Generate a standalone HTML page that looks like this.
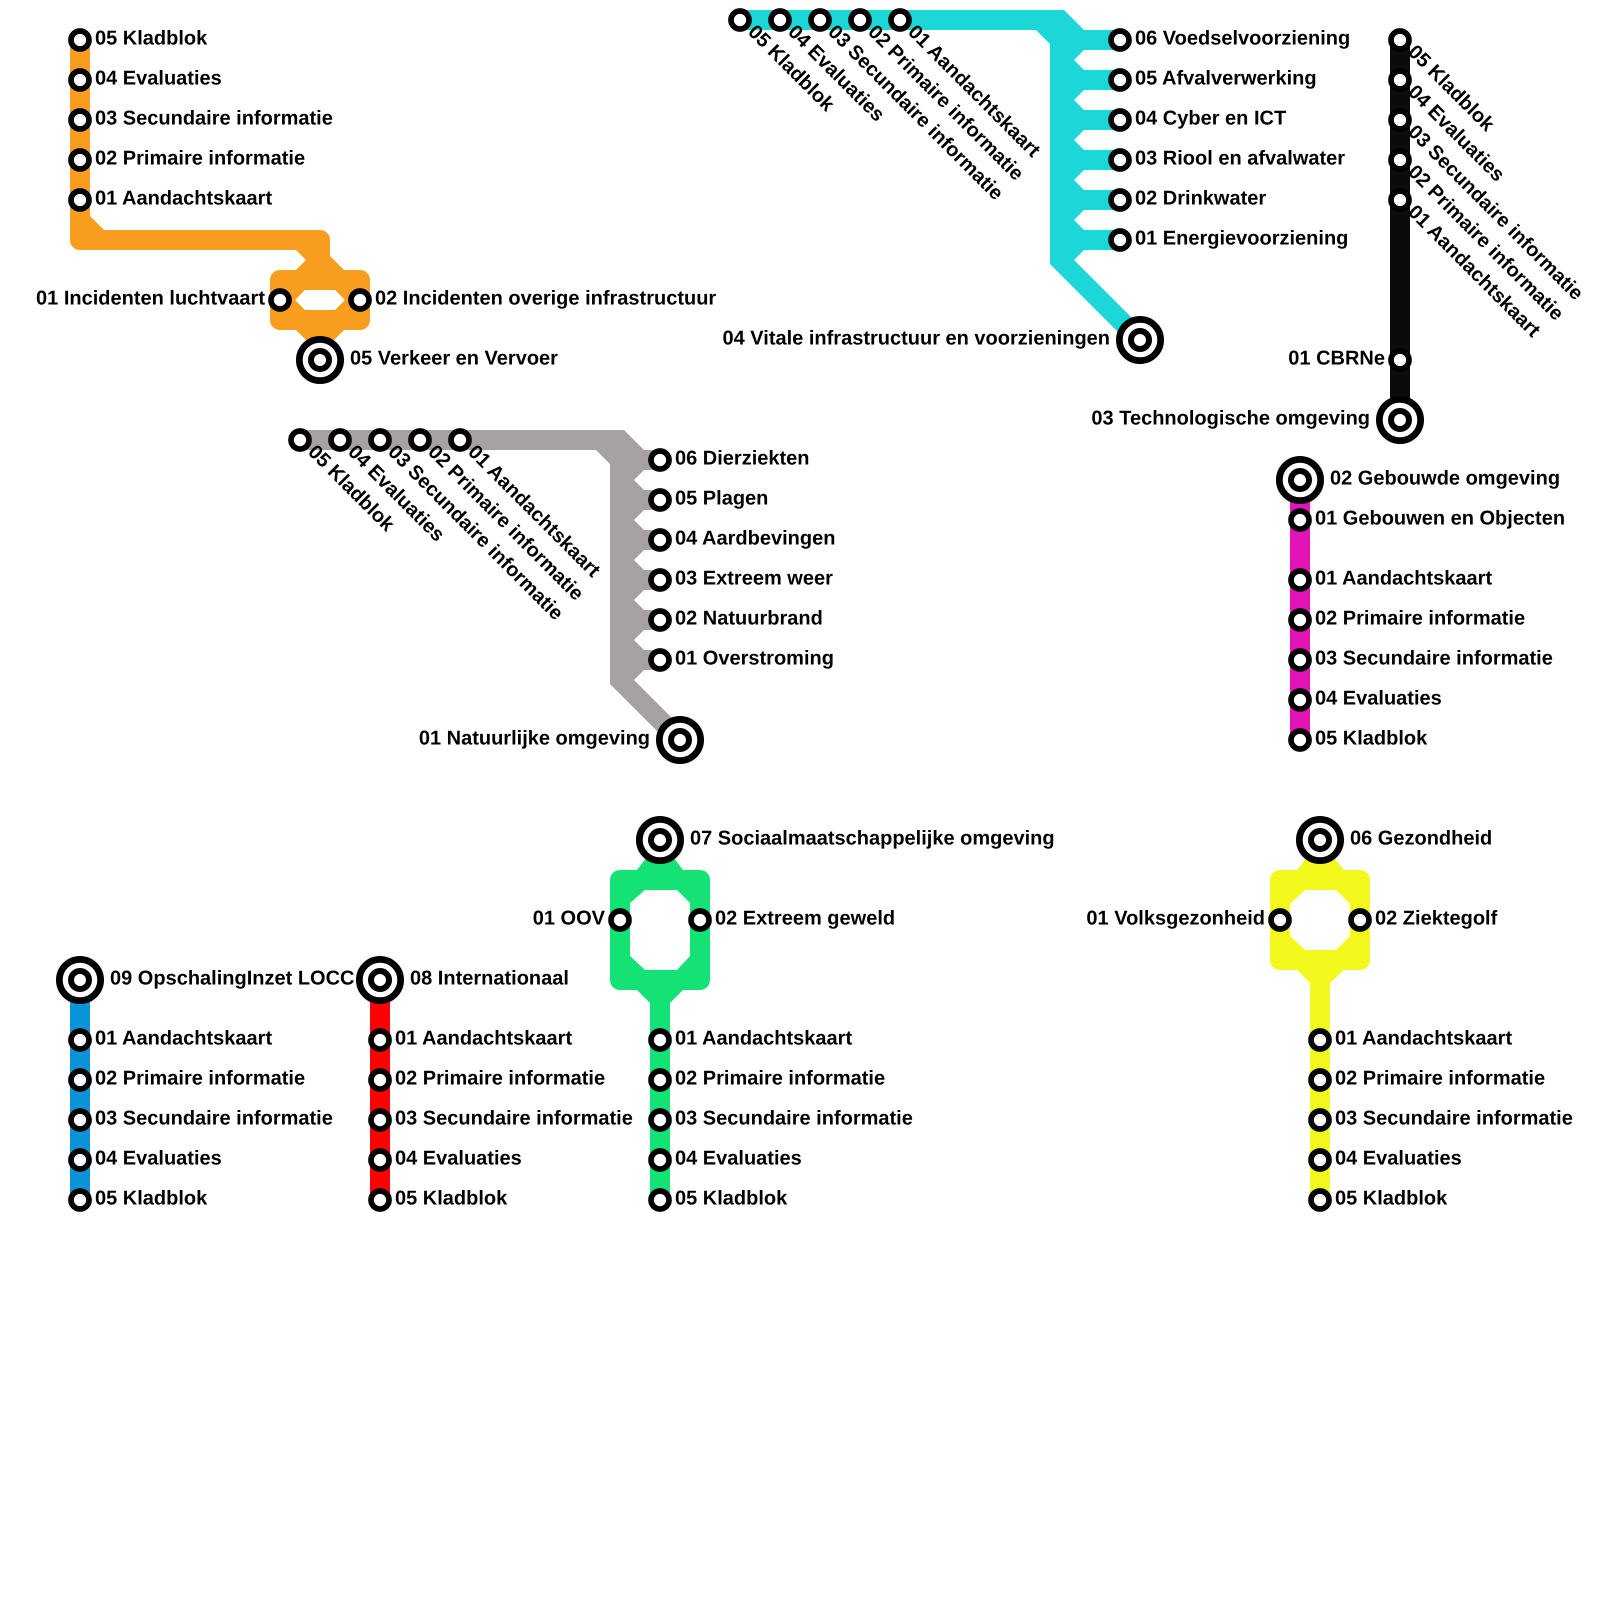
<!DOCTYPE html>
<html><head><meta charset="utf-8">
<style>
html,body{margin:0;padding:0;background:#fff}
svg{display:block}
text{font-family:"Liberation Sans",sans-serif;font-weight:700;font-size:20px;fill:#000;text-rendering:geometricPrecision}
.s{fill:#fff;stroke:#000;stroke-width:5.7}
.t{fill:#fff;stroke:#000;stroke-width:6}
.t .o{stroke-width:6.7}
.e{text-anchor:end}
</style></head><body>
<svg width="1600" height="1600" viewBox="0 0 1600 1600" xmlns="http://www.w3.org/2000/svg">
<rect width="1600" height="1600" fill="#fff"/>
<!-- lines -->
<path fill="#f99d1e" fill-rule="evenodd" d="M70 40V240A10 10 0 0 0 80 250H296L306 260L296 270H280A10 10 0 0 0 270 280V320A10 10 0 0 0 280 330H296L320 354L344 330H360A10 10 0 0 0 370 320V280A10 10 0 0 0 360 270H344L330 256V240A10 10 0 0 0 320 230H104L90 216V40ZM305 290H335L345 300L335 310H305L295 300Z"/>
<path fill="#1bd7d7" d="M740 10H1064L1084 30H1120V50H1084L1074 60L1084 70H1120V90H1084L1074 100L1084 110H1120V130H1084L1074 140L1084 150H1120V170H1084L1074 180L1084 190H1120V210H1084L1074 220L1084 230H1120V250H1084L1074 260L1147 333L1133 347L1050 264V44L1036 30H740Z"/>
<path fill="#a5a1a5" d="M300 430H624L644 450H660V470H644L634 480L644 490H660V510H644L634 520L644 530H660V550H644L634 560L644 570H660V590H644L634 600L644 610H660V630H644L634 640L644 650H660V670H644L634 680L687 733L673 747L610 684V464L596 450H300Z"/>
<rect x="1390" y="40" width="20" height="380" fill="#0b0b0b"/>
<rect x="1290" y="480" width="20" height="260" fill="#e214b8"/>
<path fill="#14e274" fill-rule="evenodd" d="M660 840L683 870H700A10 10 0 0 1 710 880V980A10 10 0 0 1 700 990H683L670 1003V1200H650V1003L637 990H620A10 10 0 0 1 610 980V880A10 10 0 0 1 620 870H637ZM645 890H677L690 903V956L677 970H645L630 956V903Z"/>
<path fill="#f4f91d" fill-rule="evenodd" d="M1320 840L1344 870H1360A10 10 0 0 1 1370 880V960A10 10 0 0 1 1360 970H1344L1330 983V1200H1310V983L1297 970H1280A10 10 0 0 1 1270 960V880A10 10 0 0 1 1280 870H1297ZM1305 890H1336L1350 904V936L1336 950H1305L1290 936V904Z"/>
<rect x="70" y="980" width="20" height="220" fill="#0a94d8"/>
<rect x="370" y="980" width="20" height="220" fill="#ff0000"/>

<!-- stations -->
<g class="s">
<circle cx="80" cy="40" r="9"/><circle cx="80" cy="80" r="9"/><circle cx="80" cy="120" r="9"/><circle cx="80" cy="160" r="9"/><circle cx="80" cy="200" r="9"/>
<circle cx="280" cy="300" r="9"/><circle cx="360" cy="300" r="9"/>
<circle cx="740" cy="20" r="9"/><circle cx="780" cy="20" r="9"/><circle cx="820" cy="20" r="9"/><circle cx="860" cy="20" r="9"/><circle cx="900" cy="20" r="9"/>
<circle cx="1120" cy="40" r="9"/><circle cx="1120" cy="80" r="9"/><circle cx="1120" cy="120" r="9"/><circle cx="1120" cy="160" r="9"/><circle cx="1120" cy="200" r="9"/><circle cx="1120" cy="240" r="9"/>
<circle cx="1400" cy="40" r="9"/><circle cx="1400" cy="80" r="9"/><circle cx="1400" cy="120" r="9"/><circle cx="1400" cy="160" r="9"/><circle cx="1400" cy="200" r="9"/><circle cx="1400" cy="360" r="9"/>
<circle cx="300" cy="440" r="9"/><circle cx="340" cy="440" r="9"/><circle cx="380" cy="440" r="9"/><circle cx="420" cy="440" r="9"/><circle cx="460" cy="440" r="9"/>
<circle cx="660" cy="460" r="9"/><circle cx="660" cy="500" r="9"/><circle cx="660" cy="540" r="9"/><circle cx="660" cy="580" r="9"/><circle cx="660" cy="620" r="9"/><circle cx="660" cy="660" r="9"/>
<circle cx="1300" cy="520" r="9"/><circle cx="1300" cy="580" r="9"/><circle cx="1300" cy="620" r="9"/><circle cx="1300" cy="660" r="9"/><circle cx="1300" cy="700" r="9"/><circle cx="1300" cy="740" r="9"/>
<circle cx="620" cy="920" r="9"/><circle cx="700" cy="920" r="9"/>
<circle cx="660" cy="1040" r="9"/><circle cx="660" cy="1080" r="9"/><circle cx="660" cy="1120" r="9"/><circle cx="660" cy="1160" r="9"/><circle cx="660" cy="1200" r="9"/>
<circle cx="1280" cy="920" r="9"/><circle cx="1360" cy="920" r="9"/>
<circle cx="1320" cy="1040" r="9"/><circle cx="1320" cy="1080" r="9"/><circle cx="1320" cy="1120" r="9"/><circle cx="1320" cy="1160" r="9"/><circle cx="1320" cy="1200" r="9"/>
<circle cx="80" cy="1040" r="9"/><circle cx="80" cy="1080" r="9"/><circle cx="80" cy="1120" r="9"/><circle cx="80" cy="1160" r="9"/><circle cx="80" cy="1200" r="9"/>
<circle cx="380" cy="1040" r="9"/><circle cx="380" cy="1080" r="9"/><circle cx="380" cy="1120" r="9"/><circle cx="380" cy="1160" r="9"/><circle cx="380" cy="1200" r="9"/>
</g>
<!-- terminals -->
<g class="t">
<circle class="o" cx="320" cy="360" r="20.65"/><circle cx="320" cy="360" r="9"/>
<circle class="o" cx="1140" cy="340" r="20.65"/><circle cx="1140" cy="340" r="9"/>
<circle class="o" cx="1400" cy="420" r="20.65"/><circle cx="1400" cy="420" r="9"/>
<circle class="o" cx="680" cy="740" r="20.65"/><circle cx="680" cy="740" r="9"/>
<circle class="o" cx="1300" cy="480" r="20.65"/><circle cx="1300" cy="480" r="9"/>
<circle class="o" cx="660" cy="840" r="20.65"/><circle cx="660" cy="840" r="9"/>
<circle class="o" cx="1320" cy="840" r="20.65"/><circle cx="1320" cy="840" r="9"/>
<circle class="o" cx="80" cy="980" r="20.65"/><circle cx="80" cy="980" r="9"/>
<circle class="o" cx="380" cy="980" r="20.65"/><circle cx="380" cy="980" r="9"/>
</g>

<!-- labels -->
<text x="95" y="44.5">05 Kladblok</text>
<text x="95" y="84.5">04 Evaluaties</text>
<text x="95" y="124.5">03 Secundaire informatie</text>
<text x="95" y="164.5">02 Primaire informatie</text>
<text x="95" y="204.5">01 Aandachtskaart</text>
<text class="e" x="265" y="304.5">01 Incidenten luchtvaart</text>
<text x="375" y="304.5">02 Incidenten overige infrastructuur</text>
<text x="350" y="364.5">05 Verkeer en Vervoer</text>

<text transform="translate(747 33) rotate(45)">05 Kladblok</text>
<text transform="translate(787 33) rotate(45)">04 Evaluaties</text>
<text transform="translate(827 33) rotate(45)">03 Secundaire informatie</text>
<text transform="translate(867 33) rotate(45)">02 Primaire informatie</text>
<text transform="translate(907 33) rotate(45)">01 Aandachtskaart</text>
<text x="1135" y="44.5">06 Voedselvoorziening</text>
<text x="1135" y="84.5">05 Afvalverwerking</text>
<text x="1135" y="124.5">04 Cyber en ICT</text>
<text x="1135" y="164.5">03 Riool en afvalwater</text>
<text x="1135" y="204.5">02 Drinkwater</text>
<text x="1135" y="244.5">01 Energievoorziening</text>
<text class="e" x="1110" y="344.5">04 Vitale infrastructuur en voorzieningen</text>

<text transform="translate(1407 53) rotate(45)">05 Kladblok</text>
<text transform="translate(1407 93) rotate(45)">04 Evaluaties</text>
<text transform="translate(1407 133) rotate(45)">03 Secundaire informatie</text>
<text transform="translate(1407 173) rotate(45)">02 Primaire informatie</text>
<text transform="translate(1407 213) rotate(45)">01 Aandachtskaart</text>
<text class="e" x="1385" y="364.5">01 CBRNe</text>
<text class="e" x="1370" y="424.5">03 Technologische omgeving</text>

<text transform="translate(307 453) rotate(45)">05 Kladblok</text>
<text transform="translate(347 453) rotate(45)">04 Evaluaties</text>
<text transform="translate(387 453) rotate(45)">03 Secundaire informatie</text>
<text transform="translate(427 453) rotate(45)">02 Primaire informatie</text>
<text transform="translate(467 453) rotate(45)">01 Aandachtskaart</text>
<text x="675" y="464.5">06 Dierziekten</text>
<text x="675" y="504.5">05 Plagen</text>
<text x="675" y="544.5">04 Aardbevingen</text>
<text x="675" y="584.5">03 Extreem weer</text>
<text x="675" y="624.5">02 Natuurbrand</text>
<text x="675" y="664.5">01 Overstroming</text>
<text class="e" x="650" y="744.5">01 Natuurlijke omgeving</text>

<text x="1330" y="484.5">02 Gebouwde omgeving</text>
<text x="1315" y="524.5">01 Gebouwen en Objecten</text>
<text x="1315" y="584.5">01 Aandachtskaart</text>
<text x="1315" y="624.5">02 Primaire informatie</text>
<text x="1315" y="664.5">03 Secundaire informatie</text>
<text x="1315" y="704.5">04 Evaluaties</text>
<text x="1315" y="744.5">05 Kladblok</text>

<text x="690" y="844.5">07 Sociaalmaatschappelijke omgeving</text>
<text class="e" x="605" y="924.5">01 OOV</text>
<text x="715" y="924.5">02 Extreem geweld</text>
<text x="675" y="1044.5">01 Aandachtskaart</text>
<text x="675" y="1084.5">02 Primaire informatie</text>
<text x="675" y="1124.5">03 Secundaire informatie</text>
<text x="675" y="1164.5">04 Evaluaties</text>
<text x="675" y="1204.5">05 Kladblok</text>

<text x="1350" y="844.5">06 Gezondheid</text>
<text class="e" x="1265" y="924.5">01 Volksgezonheid</text>
<text x="1375" y="924.5">02 Ziektegolf</text>
<text x="1335" y="1044.5">01 Aandachtskaart</text>
<text x="1335" y="1084.5">02 Primaire informatie</text>
<text x="1335" y="1124.5">03 Secundaire informatie</text>
<text x="1335" y="1164.5">04 Evaluaties</text>
<text x="1335" y="1204.5">05 Kladblok</text>

<text x="110" y="984.5">09 OpschalingInzet LOCC</text>
<text x="95" y="1044.5">01 Aandachtskaart</text>
<text x="95" y="1084.5">02 Primaire informatie</text>
<text x="95" y="1124.5">03 Secundaire informatie</text>
<text x="95" y="1164.5">04 Evaluaties</text>
<text x="95" y="1204.5">05 Kladblok</text>

<text x="410" y="984.5">08 Internationaal</text>
<text x="395" y="1044.5">01 Aandachtskaart</text>
<text x="395" y="1084.5">02 Primaire informatie</text>
<text x="395" y="1124.5">03 Secundaire informatie</text>
<text x="395" y="1164.5">04 Evaluaties</text>
<text x="395" y="1204.5">05 Kladblok</text>
</svg>
</body></html>
